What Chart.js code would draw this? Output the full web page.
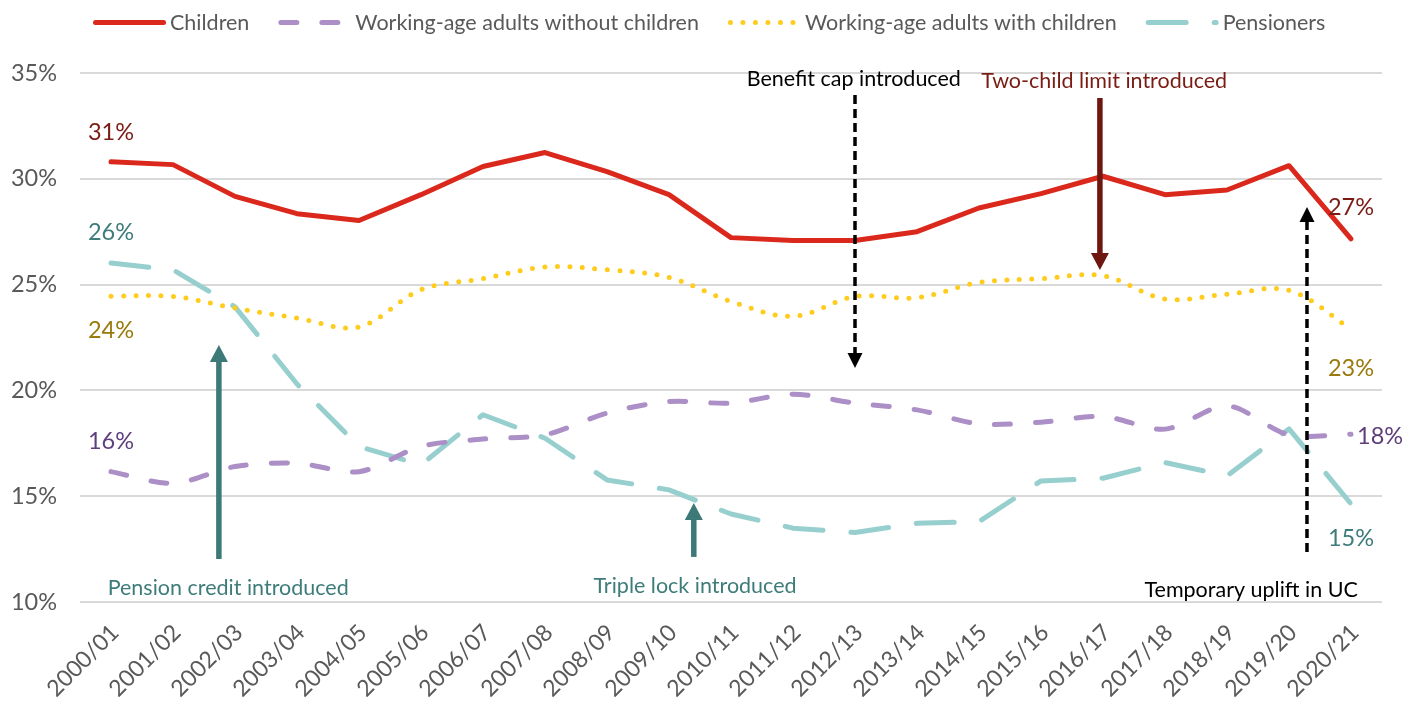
<!DOCTYPE html>
<html>
<head>
<meta charset="utf-8">
<script src="https://cdn.jsdelivr.net/npm/chart.js@4.4.1/dist/chart.umd.min.js"></script>
<style>
html,body{margin:0;padding:0;background:#ffffff;}
#wrap{width:1416px;height:705px;position:relative;}
canvas{display:block;}
</style>
</head>
<body>
<div id="wrap"><canvas id="c" width="1416" height="705"></canvas></div>
<script>
// ---------- DATA ----------
const categories = ['2000/01','2001/02','2002/03','2003/04','2004/05','2005/06','2006/07','2007/08','2008/09','2009/10','2010/11','2011/12','2012/13','2013/14','2014/15','2015/16','2016/17','2017/18','2018/19','2019/20','2020/21'];
const children = [30.8, 30.67, 29.17, 28.35, 28.03, 29.25, 30.58, 31.24, 30.34, 29.25, 27.22, 27.08, 27.08, 27.5, 28.62, 29.3, 30.12, 29.25, 29.47, 30.62, 27.16];
const adultsWithoutChildren = [16.16, 15.61, 16.4, 16.56, 16.16, 17.35, 17.7, 17.9, 18.93, 19.47, 19.4, 19.82, 19.4, 19.08, 18.42, 18.5, 18.77, 18.17, 19.27, 17.9, 17.93];
const adultsWithChildren = [24.45, 24.44, 23.89, 23.42, 23.0, 24.76, 25.28, 25.83, 25.7, 25.34, 24.2, 23.5, 24.44, 24.38, 25.1, 25.28, 25.42, 24.32, 24.55, 24.73, 22.9];
const pensioners = [26.02, 25.7, 23.95, 20.3, 17.35, 16.48, 18.85, 17.74, 15.77, 15.3, 14.16, 13.49, 13.28, 13.72, 13.8, 15.72, 15.85, 16.59, 15.96, 18.18, 14.64];
const seriesNames = ['Children','Working-age adults without children','Working-age adults with children','Pensioners'];
const yTicks = [10, 15, 20, 25, 30, 35];

// end labels: series index, category index, label baseline (in % units)
const endLabels = [
  {series:0, at:0,  y:31.83},
  {series:3, at:0,  y:27.11},
  {series:2, at:0,  y:22.48},
  {series:1, at:0,  y:17.23},
  {series:0, at:20, y:28.29},
  {series:2, at:20, y:20.68},
  {series:1, at:20.47, y:17.47},
  {series:3, at:20, y:12.65}
];
// policy annotations: text, arrow position (category index), arrow start/tip, text centre and baseline
const policyNotes = [
  {text:'Benefit cap introduced',     kind:'dashed', arrowAt:12,    from:33.96, tip:21.06, textAt:11.98, textY:34.39},
  {text:'Two-child limit introduced', kind:'red',    arrowAt:15.95, from:33.82, tip:25.69, textAt:16.02, textY:34.29},
  {text:'Temporary uplift in UC',     kind:'dashed', arrowAt:19.29, from:12.36, tip:28.67, textAt:18.39, textY:10.24},
  {text:'Pension credit introduced',  kind:'teal',   arrowAt:1.74,  from:12.03, tip:22.15, textAt:1.89,  textY:10.33},
  {text:'Triple lock introduced',     kind:'teal',   arrowAt:9.40,  from:12.13, tip:14.68, textAt:9.42,  textY:10.43}
];

// ---------- STYLE ----------
const FONT = 'Lato, "Open Sans", sans-serif';
const labelColors = ['#7a1b14', '#5e3f7c', '#9a7a0c', '#3d7c7a'];
const noteStyles = {
  dashed: {color:'#000000', text:'#000000', width:3.5, dash:[9,5], hw:15, hh:15},
  red:    {color:'#6e1610', text:'#7a1b14', width:5.5, dash:[],    hw:18, hh:17},
  teal:   {color:'#3d7977', text:'#3d7c7a', width:5.5, dash:[],    hw:18, hh:17}
};

const notesPlugin = {
  id: 'notes',
  afterDatasetsDraw(chart) {
    const ctx = chart.ctx, xs = chart.scales.x, ys = chart.scales.y;
    ctx.save();
    ctx.font = '23.5px ' + FONT;
    ctx.textAlign = 'center';
    ctx.textBaseline = 'alphabetic';
    endLabels.forEach(l => {
      const data = chart.data.datasets[l.series].data;
      const idx = Math.round(Math.min(l.at, data.length - 1));
      const txt = Math.round(data[idx]) + '%';
      ctx.fillStyle = labelColors[l.series];
      ctx.fillText(txt, xs.getPixelForValue(l.at), ys.getPixelForValue(l.y));
    });
    ctx.restore();
    policyNotes.forEach(n => {
      const st = noteStyles[n.kind];
      const x = xs.getPixelForValue(n.arrowAt);
      const y0 = ys.getPixelForValue(n.from), y1 = ys.getPixelForValue(n.tip);
      const dir = Math.sign(y1 - y0);
      ctx.save();
      ctx.strokeStyle = st.color; ctx.fillStyle = st.color;
      ctx.lineWidth = st.width; ctx.setLineDash(st.dash); ctx.lineCap = 'butt';
      ctx.beginPath(); ctx.moveTo(x, y0); ctx.lineTo(x, y1 - dir * st.hh); ctx.stroke();
      ctx.setLineDash([]);
      ctx.beginPath();
      ctx.moveTo(x, y1);
      ctx.lineTo(x - st.hw / 2, y1 - dir * st.hh);
      ctx.lineTo(x + st.hw / 2, y1 - dir * st.hh);
      ctx.closePath(); ctx.fill();
      ctx.font = '21.5px ' + FONT;
      ctx.textAlign = 'center'; ctx.textBaseline = 'alphabetic';
      ctx.fillStyle = st.text;
      ctx.fillText(n.text, xs.getPixelForValue(n.textAt), ys.getPixelForValue(n.textY));
      ctx.restore();
    });
  },
  afterDraw(chart) {
    const ctx = chart.ctx;
    ctx.save();
    ctx.font = '21.5px ' + FONT;
    ctx.textBaseline = 'alphabetic';
    ctx.textAlign = 'left';
    let x = 93;
    const yLine = 22.5, yText = 30, W = 70;
    chart.data.datasets.forEach(ds => {
      ctx.strokeStyle = ds.borderColor;
      ctx.lineWidth = ds.borderWidth;
      ctx.lineCap = 'round';
      ctx.setLineDash(ds.borderDash || []);
      ctx.beginPath(); ctx.moveTo(x + 2.5, yLine); ctx.lineTo(x + W + 0.5, yLine); ctx.stroke();
      ctx.setLineDash([]);
      ctx.fillStyle = '#595959';
      ctx.fillText(ds.label, x + W + 7, yText);
      x += W + 7 + ctx.measureText(ds.label).width + 29;
    });
    ctx.restore();
  }
};

const common = {pointRadius:0, pointHoverRadius:0, borderWidth:5, borderCapStyle:'round', borderJoinStyle:'round', fill:false};
new Chart(document.getElementById('c'), {
  type: 'line',
  data: {
    labels: categories,
    datasets: [
      Object.assign({label: seriesNames[0], data: children, borderColor:'#da291c', tension:0}, common),
      Object.assign({label: seriesNames[1], data: adultsWithoutChildren, borderColor:'#ab8fc6', borderDash:[16,25], tension:0.3}, common),
      Object.assign({label: seriesNames[2], data: adultsWithChildren, borderColor:'#ffcc1e', borderDash:[0,12.5], tension:0.35}, common),
      Object.assign({label: seriesNames[3], data: pensioners, borderColor:'#97cfce', borderDash:[38,28], tension:0}, common)
    ]
  },
  options: {
    responsive: false,
    animation: false,
    devicePixelRatio: 1,
    layout: {padding: {top: 73, right: 34, left: 0, bottom: 0}},
    plugins: {legend: {display:false}, tooltip: {enabled:false}},
    scales: {
      x: {
        offset: true,
        grid: {display:false},
        border: {display:false},
        afterFit: s => { s.height = 103; },
        ticks: {autoSkip:false, minRotation:45, maxRotation:45, color:'#595959', font:{family:FONT, size:23}, padding:9, labelOffset:4}
      },
      y: {
        min: 10, max: 35,
        afterFit: s => { s.width = 80; },
        afterBuildTicks: s => { s.ticks = yTicks.map(v => ({value:v})); },
        grid: {color:'#d9d9d9', lineWidth:2, drawTicks:false},
        border: {display:false},
        ticks: {color:'#595959', font:{family:FONT, size:23.5}, padding:23, callback: v => v + '%'}
      }
    }
  },
  plugins: [notesPlugin]
});
</script>
</body>
</html>
